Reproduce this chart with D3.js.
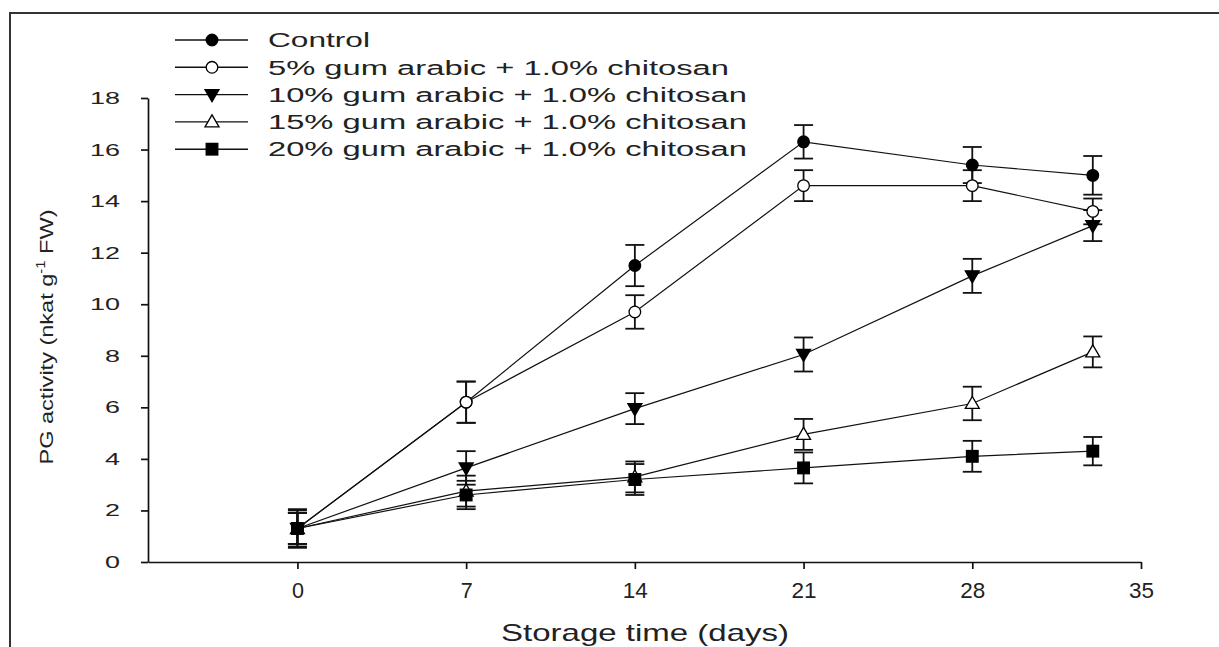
<!DOCTYPE html>
<html>
<head>
<meta charset="utf-8">
<script src="https://cdn.jsdelivr.net/npm/d3@7"></script>
<style>
	body { margin: 0; background: #fff; }
	svg { display: block; font-family: "Liberation Sans", Arial, sans-serif; }
</style>
</head>
<body>
<svg id="chart" width="1219" height="647"></svg>
<script>
// storage days and PG activity
const days = [0, 7, 14, 21, 28, 33];
const xTicks = [0, 7, 14, 21, 28, 35];
const yTicks = [0, 2, 4, 6, 8, 10, 12, 14, 16, 18];

const seriesNames = [
	"Control",
	"5% gum arabic + 1.0% chitosan",
	"10% gum arabic + 1.0% chitosan",
	"15% gum arabic + 1.0% chitosan",
	"20% gum arabic + 1.0% chitosan"
];
const control = [1.3, 6.2, 11.5, 16.3, 15.4, 15.0];
const gum5 = [1.3, 6.2, 9.7, 14.6, 14.6, 13.6];
const gum10 = [1.3, 3.65, 5.95, 8.05, 11.1, 13.05];
const gum15 = [1.3, 2.75, 3.3, 4.95, 6.15, 8.15];
const gum20 = [1.3, 2.6, 3.2, 3.65, 4.1, 4.3];

const controlErr = [0.7, 0.8, 0.8, 0.65, 0.7, 0.75];
const gum5Err = [0.6, 0.8, 0.65, 0.6, 0.6, 0.5];
const gum10Err = [0.6, 0.65, 0.6, 0.66, 0.66, 0.6];
const gum15Err = [0.6, 0.6, 0.6, 0.6, 0.65, 0.6];
const gum20Err = [0.75, 0.55, 0.6, 0.6, 0.6, 0.55];

const markers = ["circle", "circle", "triDown", "triUp", "square"];
const fills = ["#000", "#fff", "#000", "#fff", "#000"];

let series = [control, gum5, gum10, gum15, gum20].map((vals, i) => ({
	name: seriesNames[i],
	marker: markers[i],
	fill: fills[i],
	points: vals.map((v, j) => ({
		day: days[j],
		value: v,
		err: [controlErr, gum5Err, gum10Err, gum15Err, gum20Err][i][j]
	}))
}));

let svg = d3.select("#chart");

// outer frame, only left and top edges are visible
svg.append("path")
	.attr("d", "M10,647V13H1219")
	.attr("fill", "none")
	.attr("stroke", "#333")
	.attr("stroke-width", 2);

let x = d3.scaleLinear().domain([-6.2, 35]).range([148, 1141]);
let y = d3.scaleLinear().domain([0, 18]).range([562, 98]);

// axes
let yAxis = svg.append("g")
	.attr("transform", "translate(148,0)")
	.call(d3.axisLeft(y).tickValues(yTicks).tickSize(7).tickSizeOuter(0).tickPadding(21));
let xAxis = svg.append("g")
	.attr("transform", "translate(0,562)")
	.call(d3.axisBottom(x).tickValues(xTicks).tickSize(7).tickSizeOuter(0).tickPadding(13));

[yAxis, xAxis].forEach((g) => {
	g.select(".domain").attr("stroke", "#111").attr("stroke-width", 1.7);
	g.selectAll(".tick line").attr("stroke", "#111").attr("stroke-width", 1.7);
	g.selectAll(".tick text").attr("fill", "#222").attr("font-family", "Liberation Sans, Arial, sans-serif");
});
yAxis.selectAll(".tick text")
	.attr("font-size", 17)
	.attr("textLength", (d) => (d < 10 ? 15 : 30))
	.attr("lengthAdjust", "spacingAndGlyphs");
xAxis.selectAll(".tick text")
	.attr("font-size", 22)
	.attr("textLength", (d) => (d < 10 ? 12 : 25))
	.attr("lengthAdjust", "spacingAndGlyphs");

// axis titles
svg.append("text")
	.attr("x", 645)
	.attr("y", 641)
	.attr("text-anchor", "middle")
	.attr("font-size", 24)
	.attr("fill", "#222")
	.attr("textLength", 288)
	.attr("lengthAdjust", "spacingAndGlyphs")
	.text("Storage time (days)");

let yTitle = svg.append("text")
	.attr("transform", "translate(53,337) rotate(-90)")
	.attr("text-anchor", "middle")
	.attr("font-size", 19)
	.attr("fill", "#222")
	.attr("textLength", 255)
	.attr("lengthAdjust", "spacingAndGlyphs");
yTitle.append("tspan").text("PG activity (nkat g");
yTitle.append("tspan").attr("dy", -8).attr("font-size", 12).text("-1");
yTitle.append("tspan").attr("dy", 8).text(" FW)");

// marker shapes
function drawMarker(sel, kind, fill) {
	let shape;
	if (kind === "circle") {
		shape = sel.append("circle").attr("r", 5.8);
	} else if (kind === "square") {
		shape = sel.append("rect").attr("x", -5.8).attr("y", -5.8).attr("width", 11.6).attr("height", 11.6);
	} else if (kind === "triDown") {
		shape = sel.append("path").attr("d", "M-7,-5L7,-5L0,7Z");
	} else {
		shape = sel.append("path").attr("d", "M-7,5L7,5L0,-7Z");
	}
	shape.attr("fill", fill).attr("stroke", "#000").attr("stroke-width", 1.3);
}

let plot = svg.append("g");

// error bars
series.forEach((s) => {
	let eb = plot.append("g")
		.selectAll("g")
		.data(s.points)
		.join("g")
		.attr("stroke", "#111")
		.attr("stroke-width", 1.8);
	eb.append("line")
		.attr("x1", (d) => x(d.day)).attr("x2", (d) => x(d.day))
		.attr("y1", (d) => y(d.value - d.err)).attr("y2", (d) => y(d.value + d.err));
	eb.append("line")
		.attr("x1", (d) => x(d.day) - 9.5).attr("x2", (d) => x(d.day) + 9.5)
		.attr("y1", (d) => y(d.value + d.err)).attr("y2", (d) => y(d.value + d.err));
	eb.append("line")
		.attr("x1", (d) => x(d.day) - 9.5).attr("x2", (d) => x(d.day) + 9.5)
		.attr("y1", (d) => y(d.value - d.err)).attr("y2", (d) => y(d.value - d.err));
});

// connecting lines
let line = d3.line().x((d) => x(d.day)).y((d) => y(d.value));
plot.selectAll("path.series-line")
	.data(series)
	.join("path")
	.classed("series-line", true)
	.attr("d", (d) => line(d.points))
	.attr("fill", "none")
	.attr("stroke", "#111")
	.attr("stroke-width", 1.2);

// markers
series.forEach((s) => {
	plot.append("g")
		.selectAll("g")
		.data(s.points)
		.join("g")
		.attr("transform", (d) => `translate(${x(d.day)},${y(d.value)})`)
		.each(function () { drawMarker(d3.select(this), s.marker, s.fill); });
});

// legend
let legend = svg.append("g")
	.selectAll("g")
	.data(series)
	.join("g")
	.attr("transform", (d, i) => `translate(175,${40 + i * 27.3})`);
legend.append("line")
	.attr("x1", 0).attr("x2", 73)
	.attr("stroke", "#111").attr("stroke-width", 1.4);
legend.each(function (d) {
	let g = d3.select(this).append("g").attr("transform", "translate(37,0)");
	drawMarker(g, d.marker, d.fill);
});
legend.append("text")
	.attr("x", 93)
	.attr("dy", "0.36em")
	.attr("font-size", 20)
	.attr("fill", "#222")
	.attr("textLength", (d, i) => (i === 0 ? 102 : i === 1 ? 461 : 479))
	.attr("lengthAdjust", "spacingAndGlyphs")
	.text((d) => d.name);
</script>
</body>
</html>
